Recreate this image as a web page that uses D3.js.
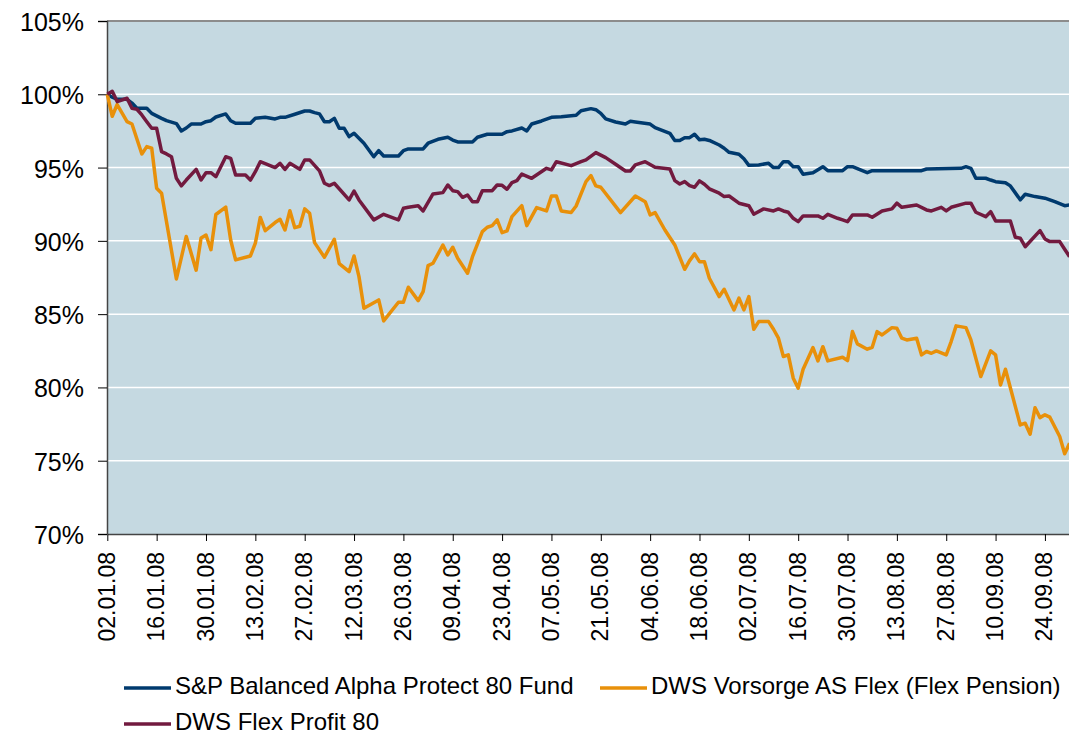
<!DOCTYPE html>
<html>
<head>
<meta charset="utf-8">
<script src="https://cdn.jsdelivr.net/npm/d3@7"></script>
<style>
  body { margin: 0; background: #fff; }
  text { font-family: "Liberation Sans", Arial, sans-serif; fill: #000; }
</style>
</head>
<body>
<div id="chart"></div>
<script>
/* Fund performance 2008, indexed to 100% */

// trading day index (0 = 02.01.08) and value in %
const spBalanced = [[0,100],[1,99.8],[2,99.66],[4,99.66],[5,99.4],[6,99.05],[8,99.05],[9,98.7],[11,98.36],[12,98.2],[14,98.0],[15,97.5],[16,97.7],[17,97.97],[19,97.97],[20,98.13],[21,98.2],[22,98.45],[24,98.66],[25,98.2],[26,98.02],[29,98.02],[30,98.36],[32,98.43],[34,98.32],[35,98.43],[36,98.43],[38,98.64],[40,98.86],[41,98.86],[42,98.75],[43,98.66],[44,98.13],[45,98.13],[46,98.36],[47,97.68],[48,97.68],[49,97.11],[50,97.34],[51,97.0],[52,96.66],[53,96.2],[54,95.74],[55,96.15],[56,95.79],[59,95.79],[60,96.15],[61,96.27],[64,96.27],[65,96.66],[67,96.93],[69,97.07],[70,96.88],[71,96.75],[74,96.75],[75,97.07],[77,97.27],[80,97.27],[81,97.45],[82,97.5],[84,97.7],[85,97.5],[86,97.97],[88,98.18],[90,98.43],[92,98.47],[95,98.57],[96,98.88],[98,99.02],[99,98.95],[100,98.7],[101,98.32],[103,98.11],[105,97.97],[106,98.16],[107,98.11],[110,97.97],[111,97.72],[114,97.34],[115,96.84],[116,96.84],[117,97.04],[118,97.04],[119,97.27],[120,96.9],[121,96.93],[122,96.85],[124,96.54],[125,96.32],[126,96.04],[128,95.91],[129,95.6],[130,95.15],[132,95.18],[134,95.29],[135,95.0],[136,95.0],[137,95.4],[138,95.4],[139,95.06],[140,95.06],[141,94.54],[143,94.65],[145,95.06],[146,94.79],[149,94.79],[150,95.06],[151,95.06],[153,94.79],[154,94.65],[155,94.79],[165,94.79],[166,94.9],[173,94.95],[174,95.06],[175,94.95],[176,94.27],[178,94.27],[179,94.15],[180,94.04],[182,93.97],[183,93.75],[185,92.8],[186,93.18],[188,93.02],[190,92.91],[192,92.67],[194,92.4],[195,92.45]];

const dwsVorsorge = [[0,100],[1,98.5],[2,99.3],[4,98.13],[5,97.97],[7,95.93],[8,96.43],[9,96.32],[10,93.59],[11,93.25],[14,87.4],[16,90.3],[18,88.0],[19,90.2],[20,90.4],[21,89.4],[22,91.8],[24,92.3],[25,90.06],[26,88.7],[29,88.97],[30,89.84],[31,91.6],[32,90.7],[34,91.25],[35,91.47],[36,90.74],[37,92.06],[38,90.9],[39,91.0],[40,92.18],[41,91.88],[42,89.88],[44,88.88],[46,90.11],[47,88.45],[49,87.9],[50,88.97],[51,87.56],[52,85.4],[55,85.97],[56,84.54],[59,85.81],[60,85.81],[61,86.84],[63,85.92],[64,86.54],[65,88.31],[66,88.47],[68,89.72],[69,89.04],[70,89.56],[71,88.81],[73,87.79],[74,88.92],[76,90.63],[77,90.93],[78,91.04],[79,91.43],[80,90.56],[81,90.68],[82,91.65],[84,92.4],[85,91.04],[87,92.27],[89,92.04],[90,93.06],[91,93.06],[92,92.04],[94,91.93],[95,92.38],[97,94.04],[98,94.45],[99,93.75],[100,93.66],[104,91.93],[107,93.06],[109,92.67],[110,91.77],[111,91.93],[113,90.74],[115,89.72],[117,88.06],[118,88.65],[119,89.11],[120,88.58],[121,88.58],[122,87.45],[124,86.2],[125,86.7],[127,85.29],[128,86.09],[129,85.29],[130,86.2],[131,83.97],[132,84.49],[134,84.49],[135,83.97],[136,83.36],[137,82.11],[138,82.22],[139,80.63],[140,79.95],[141,81.24],[143,82.72],[144,81.81],[145,82.78],[146,81.81],[149,82.06],[150,81.83],[151,83.81],[152,82.97],[154,82.61],[155,82.74],[156,83.81],[157,83.58],[159,84.08],[160,84.04],[161,83.36],[162,83.24],[164,83.36],[165,82.22],[166,82.45],[167,82.33],[168,82.49],[170,82.22],[171,83.13],[172,84.2],[174,84.08],[175,83.24],[177,80.74],[179,82.49],[180,82.22],[181,80.17],[182,81.24],[185,77.44],[186,77.56],[187,76.81],[188,78.62],[189,77.94],[190,78.13],[191,77.97],[193,76.65],[194,75.47],[195,76.19]];

const dwsFlexProfit = [[0,100],[1,100.2],[2,99.5],[4,99.73],[5,99.04],[6,98.98],[7,98.59],[8,98.13],[9,97.68],[10,97.68],[11,96.09],[12,95.93],[13,95.74],[14,94.27],[15,93.75],[16,94.15],[18,94.88],[19,94.15],[20,94.65],[21,94.65],[22,94.38],[23,95.06],[24,95.74],[25,95.63],[26,94.49],[28,94.49],[29,94.15],[30,94.72],[31,95.4],[34,95.0],[35,95.29],[36,94.88],[37,95.29],[39,94.88],[40,95.52],[41,95.52],[43,94.77],[44,93.93],[45,93.77],[46,93.93],[49,92.79],[50,93.4],[51,92.79],[54,91.43],[56,91.81],[59,91.43],[60,92.22],[61,92.29],[63,92.4],[64,92.04],[66,93.2],[68,93.29],[69,93.81],[70,93.42],[71,93.36],[72,92.97],[73,93.13],[74,92.67],[75,92.67],[76,93.42],[78,93.42],[79,93.81],[80,93.79],[81,93.52],[82,93.97],[83,94.11],[84,94.56],[86,94.27],[89,94.95],[90,94.84],[91,95.4],[94,95.13],[96,95.4],[97,95.52],[99,96.02],[101,95.68],[103,95.23],[105,94.77],[106,94.77],[107,95.18],[109,95.4],[111,95.02],[114,94.9],[115,94.11],[116,93.88],[117,94.04],[118,93.77],[119,93.66],[120,94.09],[121,93.86],[122,93.55],[124,93.25],[125,93.02],[126,93.06],[128,92.57],[130,92.4],[131,91.82],[133,92.18],[135,92.04],[136,92.18],[137,92.04],[138,91.95],[139,91.54],[140,91.31],[141,91.7],[144,91.7],[145,91.54],[146,91.81],[148,91.54],[149,91.43],[150,91.31],[151,91.77],[154,91.77],[155,91.61],[157,92.04],[159,92.18],[160,92.57],[161,92.29],[164,92.45],[166,92.11],[167,92.04],[169,92.29],[170,92.04],[171,92.29],[174,92.57],[175,92.57],[176,91.95],[178,91.65],[179,91.99],[180,91.36],[183,91.36],[184,90.25],[185,90.18],[186,89.6],[189,90.7],[190,90.13],[191,89.95],[193,89.95],[194,89.43],[195,88.92]];

const tickLabels = ["02.01.08","16.01.08","30.01.08","13.02.08","27.02.08","12.03.08","26.03.08","09.04.08","23.04.08","07.05.08",
                    "21.05.08","04.06.08","18.06.08","02.07.08","16.07.08","30.07.08","13.08.08","27.08.08","10.09.08","24.09.08"];
const tickDays = [0,10,20,30,40,50,60,70,80,90,100,110,120,130,140,150,160,170,180,190];
const yTicks = [70,75,80,85,90,95,100,105];

const seriesNames = ["S&P Balanced Alpha Protect 80 Fund", "DWS Vorsorge AS Flex (Flex Pension)", "DWS Flex Profit 80"];
const seriesColors = ["#003A6E", "#E8900A", "#721A3F"];
const seriesData = [spBalanced, dwsVorsorge, dwsFlexProfit];

const width = 1069, height = 736;
const margin = ({ top: 21, right: -1, bottom: 202, left: 107 });

let svg = d3.select("#chart")
    .append("svg")
    .attr("width", width)
    .attr("height", height)
    .style("display", "block");

const x = d3.scaleLinear()
    .domain([0, 195])
    .range([margin.left + 0.3, width - margin.right - 0.4]);

const y = d3.scaleLinear()
    .domain([70, 105])
    .range([height - margin.bottom, margin.top]);

// plot background
svg.append("rect")
    .attr("x", margin.left)
    .attr("y", margin.top)
    .attr("width", width - margin.left + 5)
    .attr("height", y(70) - margin.top)
    .attr("fill", "#C5D9E1");

// white gridlines
svg.append("g")
    .selectAll("line")
    .data(yTicks.filter(d => d > 70 && d < 105))
    .join("line")
    .attr("x1", margin.left)
    .attr("x2", width + 5)
    .attr("y1", d => y(d))
    .attr("y2", d => y(d))
    .attr("stroke", "#fff")
    .attr("stroke-width", 1.5);

// top border of plot
svg.append("line")
    .attr("x1", margin.left).attr("x2", width + 5)
    .attr("y1", y(105)).attr("y2", y(105))
    .attr("stroke", "#8c8c8c").attr("stroke-width", 2);

const yAxis = g => g
    .attr("transform", `translate(${margin.left},0)`)
    .call(d3.axisLeft(y).tickValues(yTicks).tickFormat(d => d + "%").tickSize(9).tickPadding(14))
    .call(g => g.select(".domain").attr("stroke", "#444").attr("stroke-width", 1.5))
    .call(g => g.selectAll(".tick line").attr("stroke", "#000").attr("stroke-width", 1))
    .call(g => g.selectAll("text").attr("font-size", 25).attr("dy", "0.38em")
        .style("font-family", "'Liberation Sans', Arial, sans-serif").attr("fill", "#000"));

const xAxis = g => g
    .attr("transform", `translate(0,${y(70)})`)
    .call(d3.axisBottom(x).tickValues(tickDays).tickFormat((d, i) => tickLabels[i]).tickSize(7).tickSizeOuter(0))
    .call(g => g.select(".domain").attr("stroke", "#444").attr("stroke-width", 1.5))
    .call(g => g.selectAll(".tick line").attr("stroke", "#000").attr("stroke-width", 1))
    .call(g => g.selectAll("text")
        .attr("font-size", 23)
        .style("font-family", "'Liberation Sans', Arial, sans-serif")
        .attr("fill", "#000")
        .attr("transform", "rotate(-90)")
        .attr("text-anchor", "end")
        .attr("x", -18)
        .attr("y", -1)
        .attr("dy", "0.35em"));

svg.append("g").call(xAxis);
svg.append("g").call(yAxis);

const line = d3.line()
    .x(d => x(d[0]))
    .y(d => y(d[1]));

svg.append("g")
    .selectAll("path")
    .data(seriesData)
    .join("path")
    .attr("d", line)
    .attr("fill", "none")
    .attr("stroke", (d, i) => seriesColors[i])
    .attr("stroke-width", 3.5)
    .attr("stroke-linejoin", "round");

// legend, two items on first row, one on second (y = sample line)
const legendPos = [[124, 688], [600, 688], [124, 724]];

let legend = svg.selectAll(".legend")
    .data(seriesNames)
    .join("g")
    .attr("class", "legend")
    .attr("transform", (d, i) => `translate(${legendPos[i][0]},${legendPos[i][1]})`);

legend.append("line")
    .attr("x1", 0).attr("x2", 47)
    .attr("stroke", (d, i) => seriesColors[i])
    .attr("stroke-width", 3.5);

legend.append("text")
    .text(d => d)
    .attr("x", 51)
    .attr("y", 6) /* baseline sits a bit below the sample line */
    .attr("font-size", 24);
</script>
</body>
</html>
